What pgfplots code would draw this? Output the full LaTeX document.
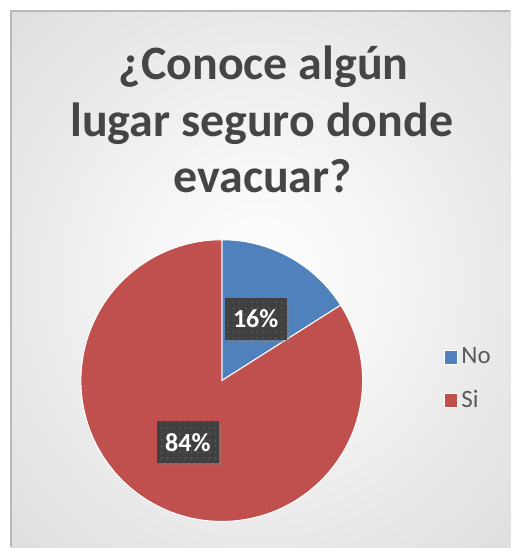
\documentclass[border=0pt]{standalone}
\usepackage{pgfplots}
\pgfplotsset{compat=1.18}
\usepackage{fontspec}
\setmainfont{Carlito}
\usetikzlibrary{patterns,shadows}

\definecolor{cblue}{HTML}{4F81BD}
\definecolor{cred}{HTML}{C0504D}
\definecolor{ctitle}{HTML}{454545}
\definecolor{ctext}{HTML}{595959}
\definecolor{clab}{HTML}{404040}
\definecolor{cdot}{HTML}{5A5A5A}
\definecolor{bgout}{HTML}{C4C4C4}
\definecolor{bgmid}{HTML}{D0D0D0}

\pgfdeclareradialshading{bgshade}{\pgfpoint{0bp}{0bp}}{%
  color(0bp)=(white); color(10bp)=(white!97!black); color(50bp)=(bgmid); color(72bp)=(bgout)}

% data (percent)
\def\vNo{16}
\def\vSi{84}
% pie geometry in pixel units
\def\cx{222}
\def\cy{381}
\def\R{141}
\pgfmathsetmacro{\aNoA}{90}
\pgfmathsetmacro{\aNoB}{90-3.6*\vNo}
\pgfmathsetmacro{\aSiB}{\aNoB-3.6*\vSi}
\pgfmathsetmacro{\mNo}{(\aNoA+\aNoB)/2}
\pgfmathsetmacro{\mSi}{(\aNoB+\aSiB)/2}
\pgfmathsetmacro{\xNo}{\cx+0.5*\R*cos(\mNo)}
\pgfmathsetmacro{\yNo}{\cy-0.5*\R*sin(\mNo)}
\pgfmathsetmacro{\xSi}{\cx+0.5*\R*cos(\mSi)}
\pgfmathsetmacro{\ySi}{\cy-0.5*\R*sin(\mSi)}

\begin{document}
\begin{tikzpicture}
\begin{axis}[
  width=255.5pt, height=274pt, scale only axis,
  xmin=0, xmax=511, ymin=0, ymax=548, y dir=reverse,
  hide axis, clip=false,
  legend style={at={(axis cs:444,345)}, anchor=north west, draw=none, fill=none,
    font=\fontsize{12.5}{14}\selectfont, text=ctext, row sep=9pt,
    inner sep=0pt, outer sep=0pt, nodes={inner sep=1.5pt}},
  legend cell align=left,
  legend image code/.code={\fill[#1] (0pt,-3.5pt) rectangle (7pt,3.5pt);},
]
% background
\fill[white] (axis cs:0,0) rectangle (axis cs:511,548);
\shade[shading=bgshade] (axis cs:11,11) rectangle (axis cs:511,548);
\draw[gray!55, line width=0.6pt] (axis cs:11,548) -- (axis cs:11,11) -- (axis cs:511,11);

% title
\node[anchor=base, text=ctitle, font=\fontsize{24}{28}\selectfont\bfseries] at (axis cs:264,80) {¿Conoce algún};
\node[anchor=base, text=ctitle, font=\fontsize{24}{28}\selectfont\bfseries] at (axis cs:262,137) {lugar seguro donde};
\node[anchor=base, text=ctitle, font=\fontsize{24}{28}\selectfont\bfseries] at (axis cs:263,193) {evacuar?};

% pie slices
\addplot[draw=white, line width=0.5pt, fill=cblue, domain=\aNoB:\aNoA, samples=80, variable=\t]
  ({\cx+\R*cos(\t)}, {\cy-\R*sin(\t)}) -- (axis cs:\cx,\cy) -- cycle;
\addlegendentry{No}
\addplot[draw=white, line width=0.5pt, fill=cred, domain=\aSiB:\aNoB, samples=200, variable=\t]
  ({\cx+\R*cos(\t)}, {\cy-\R*sin(\t)}) -- (axis cs:\cx,\cy) -- cycle;
\addlegendentry{Si}

% data labels
\node[fill=clab, minimum width=31pt, minimum height=21pt, inner sep=0pt,
  drop shadow={shadow xshift=1.5pt, shadow yshift=-1.5pt, opacity=0.35},
  postaction={pattern=dots, pattern color=cdot},
  text=white, font=\fontsize{13}{15}\selectfont\bfseries] at (axis cs:\xNo,\yNo) {16\%};
\node[fill=clab, minimum width=31pt, minimum height=21pt, inner sep=0pt,
  drop shadow={shadow xshift=1.5pt, shadow yshift=-1.5pt, opacity=0.35},
  postaction={pattern=dots, pattern color=cdot},
  text=white, font=\fontsize{13}{15}\selectfont\bfseries] at (axis cs:\xSi,\ySi) {84\%};
\end{axis}
\end{tikzpicture}
\end{document}
